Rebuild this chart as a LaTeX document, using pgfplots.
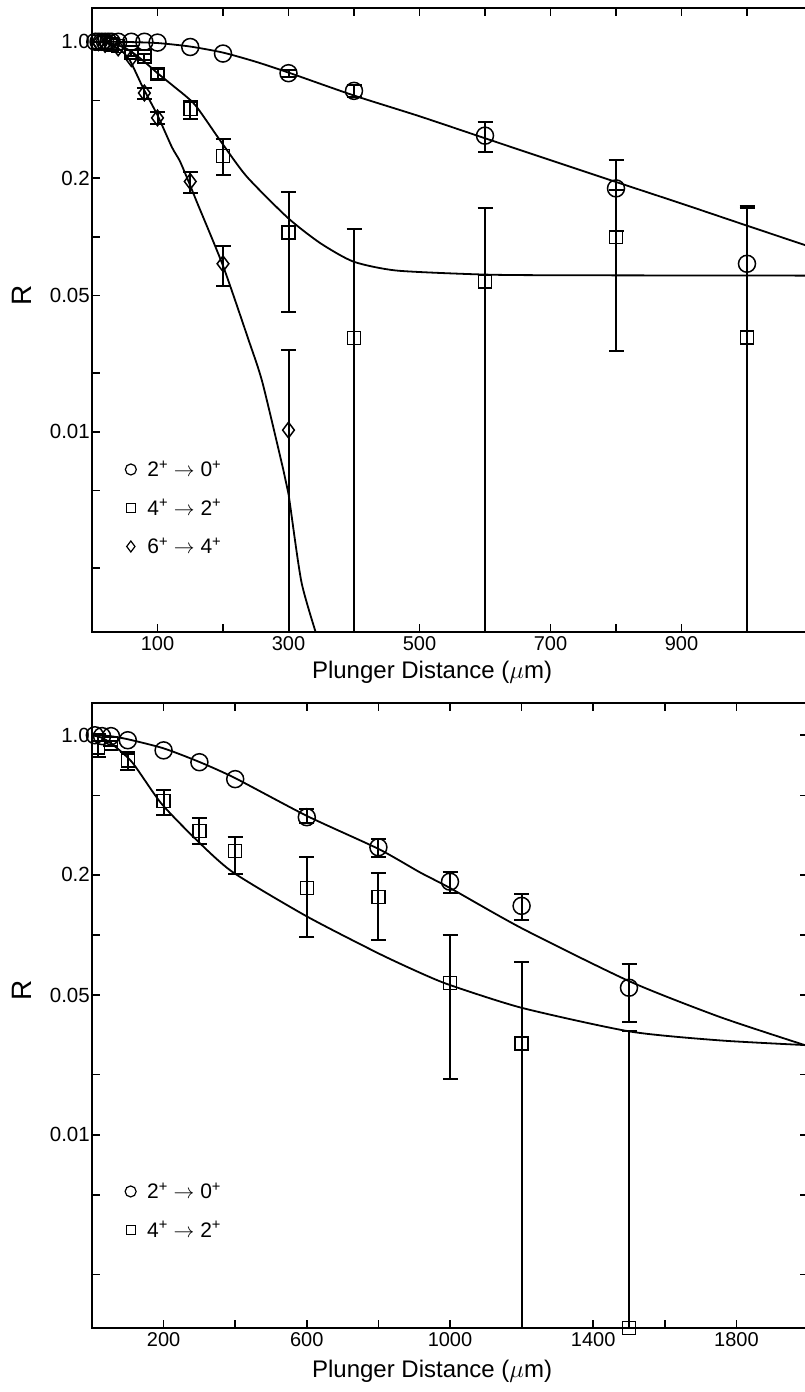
\documentclass[border=0pt]{standalone}
\usepackage{pgfplots}
\pgfplotsset{compat=1.18}
\usepackage{fontspec}
\setmainfont{Liberation Sans}

\pgfplotsset{
  myaxis/.style={
    scale only axis,
    xmin=0,
    axis line style={line width=1.8pt},
    tick style={line width=1.5pt, black},
    major tick length=8pt,
    tick align=inside,
    ytick={1,0.5,0.2,0.1,0.05,0.02,0.01,0.005,0.002},
    yticklabels={1.0,,0.2,,0.05,,0.01,,},
    xticklabel style={font=\fontsize{20}{20}\selectfont, inner sep=1pt, yshift=-3pt},
    yticklabel style={font=\fontsize{20.5}{20.5}\selectfont, inner sep=2pt},
    xlabel={Plunger Distance ($\mu$m)},
    ylabel={R},
    ylabel style={font=\fontsize{28}{28}\selectfont, at={(axis description cs:-0.098,0.54)}, anchor=center},
    legend style={draw=none, fill=none, font=\fontsize{21}{21}\selectfont, row sep=17pt, column sep=9pt, inner sep=0pt},
    legend cell align=left,
  },
  mycirc/.style={only marks, mark=o, mark size=8.5pt, mark options={line width=1.5pt, black}},
  mysqr/.style={only marks, mark=square, mark size=6.5pt, mark options={line width=1.5pt, black}},
  mydia/.style={only marks, mark=diamond, mark size=7.8pt, mark options={line width=1.5pt, black}},
  myebar/.style={
     /pgfplots/error bars/y dir=both,
     /pgfplots/error bars/y explicit,
     /pgfplots/error bars/error bar style={line width=2pt, black},
     /pgfplots/error bars/error mark options={rotate=90, line width=2pt, mark size=7.5pt, black}},
  myfit/.style={no markers, line width=1.8pt, black, smooth, tension=0.4},
}

\begin{document}
\begin{tikzpicture}
\useasboundingbox (0,0) rectangle (804pt,1392pt);

% ---------------- top panel ----------------
\begin{axis}[myaxis, ymode=log,
  at={(92pt,760pt)}, anchor=south west,
  width=720.5pt, height=624pt,
  xmax=1100, ymin=0.00094, ymax=1.49,
  xtick={100,200,...,1000},
  xticklabels={100,,300,,500,,700,,900,},
  xlabel style={font=\fontsize{24}{24}\selectfont, at={(axis description cs:0.472,0)}, anchor=north, yshift=-26pt},
  legend style={at={(axis description cs:0.046,0.278)}, anchor=north west},
]
\addlegendimage{only marks, mark=o, mark size=5.5pt, mark options={line width=1.2pt}}
\addlegendentry{2\textsuperscript{+} $\rightarrow$ 0\textsuperscript{+}}
\addlegendimage{only marks, mark=square, mark size=4.5pt, mark options={line width=1.2pt}}
\addlegendentry{4\textsuperscript{+} $\rightarrow$ 2\textsuperscript{+}}
\addlegendimage{only marks, mark=diamond, mark size=5.5pt, mark options={line width=1.2pt}}
\addlegendentry{6\textsuperscript{+} $\rightarrow$ 4\textsuperscript{+}}

% fits
\addplot[myfit, forget plot] coordinates {(0,1.0) (50,0.998) (100,0.985) (150,0.945) (200,0.88) (250,0.79) (300,0.695) (400,0.53) (500,0.415) (600,0.32) (700,0.247) (800,0.191) (900,0.148) (1000,0.114) (1100,0.088)};
\addplot[myfit, forget plot] coordinates {(0,1.0) (20,0.99) (40,0.96) (60,0.89) (80,0.79) (100,0.69) (125,0.59) (157,0.476) (195,0.314) (236,0.204) (299,0.125) (348,0.093) (399,0.0746) (465,0.0671) (592,0.0641) (700,0.0635) (1100,0.0632)};
\addplot[myfit, forget plot] coordinates {(0,1.0) (20,0.99) (43,0.91) (58,0.80) (78,0.58) (100,0.42) (122,0.288) (134,0.245) (148,0.19) (160,0.151) (200,0.071) (239,0.0296) (260,0.018) (292,0.0064) (300,0.0048) (320,0.00168) (348,0.0008)};

% circles 2+ -> 0+
\addplot[mycirc, forget plot] coordinates {(5,1.0) (10,1.0) (15,1.0) (20,1.0) (25,1.0) (30,1.0) (40,1.0) (60,1.0) (80,1.0) (100,0.99) (150,0.94) (200,0.87)};
\addplot[mycirc, myebar, forget plot] coordinates {
 (300,0.69) += (0,0.03) -= (0,0.03)
 (400,0.56) += (0,0.04) -= (0,0.04)
 (600,0.33) += (0,0.06) -= (0,0.057)
 (800,0.177) += (0,0.07) -= (0,0.07)
 (1000,0.0727) += (0,0.071) -= (0,0.0722)
};
% squares 4+ -> 2+
\addplot[mysqr, forget plot] coordinates {(10,1.0) (20,0.99) (30,0.97) (40,0.95)};
\addplot[mysqr, myebar, forget plot] coordinates {
 (60,0.88) += (0,0.03) -= (0,0.03)
 (80,0.84) += (0,0.03) -= (0,0.03)
 (100,0.684) += (0,0.04) -= (0,0.04)
 (150,0.452) += (0,0.042) -= (0,0.050)
 (200,0.26) += (0,0.057) -= (0,0.052)
 (300,0.105) += (0,0.064) -= (0,0.064)
 (400,0.0302) += (0,0.08) -= (0,0.0299)
 (600,0.059) += (0,0.081) -= (0,0.0587)
 (800,0.1) += (0,0.074) -= (0,0.074)
 (1000,0.0304) += (0,0.11) -= (0,0.0301)
};
% diamonds 6+ -> 4+
\addplot[mydia, forget plot] coordinates {(10,0.99) (20,0.97) (40,0.93) (60,0.82)};
\addplot[mydia, myebar, forget plot] coordinates {
 (80,0.546) += (0,0.035) -= (0,0.035)
 (100,0.407) += (0,0.03) -= (0,0.03)
 (150,0.192) += (0,0.024) -= (0,0.024)
 (200,0.0727) += (0,0.0165) -= (0,0.017)
 (300,0.0102) += (0,0.0162) -= (0,0.0099)
};
\end{axis}

% ---------------- bottom panel ----------------
\begin{axis}[myaxis, ymode=log,
  at={(92pt,64pt)}, anchor=south west,
  width=716pt, height=625pt,
  xmax=2000, ymin=0.00108, ymax=1.45,
  xtick={200,400,...,2000},
  xticklabels={200,,600,,1000,,1400,,1800,},
  xlabel style={font=\fontsize{24}{24}\selectfont, at={(axis description cs:0.475,0)}, anchor=north, yshift=-29pt},
  legend style={at={(axis description cs:0.046,0.236)}, anchor=north west},
]
\addlegendimage{only marks, mark=o, mark size=5.5pt, mark options={line width=1.2pt}}
\addlegendentry{2\textsuperscript{+} $\rightarrow$ 0\textsuperscript{+}}
\addlegendimage{only marks, mark=square, mark size=4.5pt, mark options={line width=1.2pt}}
\addlegendentry{4\textsuperscript{+} $\rightarrow$ 2\textsuperscript{+}}

\addplot[myfit, forget plot] coordinates {(0,1.0) (50,0.99) (100,0.955) (200,0.86) (300,0.735) (400,0.61) (600,0.395) (800,0.27) (916,0.206) (1000,0.172) (1201,0.108) (1503,0.0585) (1754,0.0389) (2000,0.0278)};
\addplot[myfit, forget plot] coordinates {(0,1.0) (25,0.975) (53,0.912) (112,0.733) (193,0.457) (293,0.298) (394,0.206) (600,0.124) (800,0.081) (916,0.0648) (1000,0.0562) (1201,0.0432) (1503,0.0329) (1754,0.0297) (2000,0.0281)};

\addplot[mycirc, forget plot] coordinates {(8,1.0) (28,0.99) (53,0.99) (100,0.944) (200,0.84) (300,0.733) (400,0.603)};
\addplot[mycirc, myebar, forget plot] coordinates {
 (600,0.389) += (0,0.038) -= (0,0.026)
 (800,0.275) += (0,0.027) -= (0,0.03)
 (1000,0.185) += (0,0.022) -= (0,0.022)
 (1200,0.140) += (0,0.020) -= (0,0.021)
 (1500,0.0545) += (0,0.017) -= (0,0.0177)
};
\addplot[mysqr, myebar, forget plot] coordinates {
 (17,0.87) += (0,0.15) -= (0,0.095)
 (53,0.91) += (0,0.03) -= (0,0.03)
 (100,0.748) += (0,0.08) -= (0,0.08)
 (200,0.47) += (0,0.06) -= (0,0.07)
 (300,0.331) += (0,0.055) -= (0,0.045)
 (400,0.263) += (0,0.045) -= (0,0.06)
 (600,0.172) += (0,0.074) -= (0,0.074)
 (800,0.155) += (0,0.05) -= (0,0.06)
 (1000,0.0577) += (0,0.0423) -= (0,0.0387)
 (1200,0.0287) += (0,0.0448) -= (0,0.0284)
 (1500,0.00108) += (0,0.032) -= (0,0.0005)
};
\end{axis}
\end{tikzpicture}
\end{document}
